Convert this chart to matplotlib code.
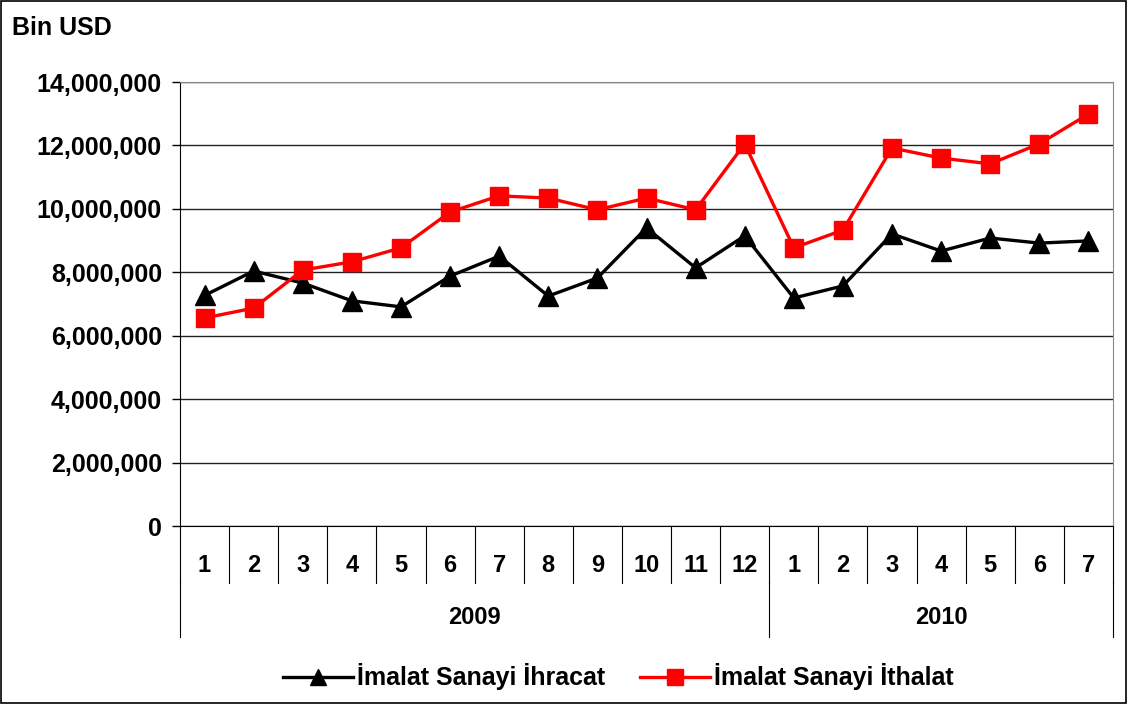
import matplotlib
matplotlib.use("Agg")
import matplotlib.pyplot as plt
from matplotlib.lines import Line2D
from matplotlib.patches import Rectangle
from matplotlib.ticker import FuncFormatter

plt.rcParams['font.family'] = ['Liberation Sans', 'DejaVu Sans']

months = ["1", "2", "3", "4", "5", "6", "7", "8", "9", "10", "11", "12",
          "1", "2", "3", "4", "5", "6", "7"]
years = ["2009", "2010"]
year_counts = [12, 7]

ihracat = [7.27e6, 8.04e6, 7.66e6, 7.10e6, 6.91e6, 7.88e6, 8.51e6, 7.25e6, 7.82e6,
           9.40e6, 8.14e6, 9.15e6, 7.19e6, 7.57e6, 9.21e6, 8.67e6, 9.08e6, 8.92e6, 8.99e6]
ithalat = [6.56e6, 6.87e6, 8.07e6, 8.33e6, 8.77e6, 9.90e6, 10.41e6, 10.34e6, 9.97e6,
           10.34e6, 9.97e6, 12.05e6, 8.77e6, 9.33e6, 11.92e6, 11.60e6, 11.42e6, 12.05e6, 12.99e6]

label_ihr = "İmalat Sanayi İhracat"
label_ith = "İmalat Sanayi İthalat"

fig = plt.figure(figsize=(11.28, 7.04), dpi=100)
ax = fig.add_axes([180/1128, 1-526/704, (1113-180)/1128, (526-82)/704])

x = list(range(len(months)))
ax.plot(x, ihracat, color='black', lw=2.4, marker='^', markersize=15, label=label_ihr, zorder=3)
ax.plot(x, ithalat, color='#ff0000', lw=2.4, marker='s', markersize=13.5, label=label_ith, zorder=4)

ax.set_xlim(-0.5, len(months) - 0.5)
ax.set_ylim(0, 14e6)
ax.set_yticks(range(0, 14000001, 2000000))
ax.yaxis.set_major_formatter(FuncFormatter(lambda v, p: f"{int(v):,}"))
ax.yaxis.grid(True, color='#222222', lw=1.0)
ax.set_axisbelow(True)
ax.set_xticks([])
ax.tick_params(axis='y', direction='out', length=6, width=1, labelsize=18, pad=7)
for lab in ax.get_yticklabels():
    lab.set_fontweight('bold')
ax.spines['left'].set_color('black')
ax.spines['bottom'].set_color('black')
ax.spines['top'].set_color('#888888')
ax.spines['right'].set_color('#888888')

# category table under axis
trans = ax.get_xaxis_transform()
h = 444.0
month_sep_bot = -(583 - 526) / h
year_sep_bot = -(637 - 526) / h
for i in range(len(months) + 1):
    xp = i - 0.5
    ax.plot([xp, xp], [0, month_sep_bot], transform=trans, color='black', lw=0.8, clip_on=False)
for i, m in enumerate(months):
    ax.text(i, -(565 - 526) / h, m, transform=trans, ha='center', va='center',
            fontsize=17, fontweight='bold')
start = 0
bounds = [-0.5]
for yr, cnt in zip(years, year_counts):
    ax.text(start + (cnt - 1) / 2, -(618 - 526) / h, yr, transform=trans, ha='center',
            va='center', fontsize=17, fontweight='bold')
    start += cnt
    bounds.append(start - 0.5)
for b in bounds:
    ax.plot([b, b], [month_sep_bot, year_sep_bot], transform=trans, color='black', lw=0.8, clip_on=False)

fig.text(12/1128, 1-28/704, "Bin USD", ha='left', va='center', fontsize=18, fontweight='bold')

handles = [Line2D([], [], color='black', lw=2.4, marker='^', markersize=12),
           Line2D([], [], color='#ff0000', lw=2.4, marker='s', markersize=11)]
fig.legend(handles, [label_ihr, label_ith], loc='center', bbox_to_anchor=(0.548, 1-677/704),
           ncol=2, frameon=False, prop={'size': 18, 'weight': 'bold'},
           handlelength=2.8, handletextpad=0.15, columnspacing=1.4)

fig.add_artist(Rectangle((0.001, 0.001), 0.997, 0.997, transform=fig.transFigure,
                         fill=False, edgecolor='black', lw=1.2))

fig.savefig("out.png", dpi=100)
